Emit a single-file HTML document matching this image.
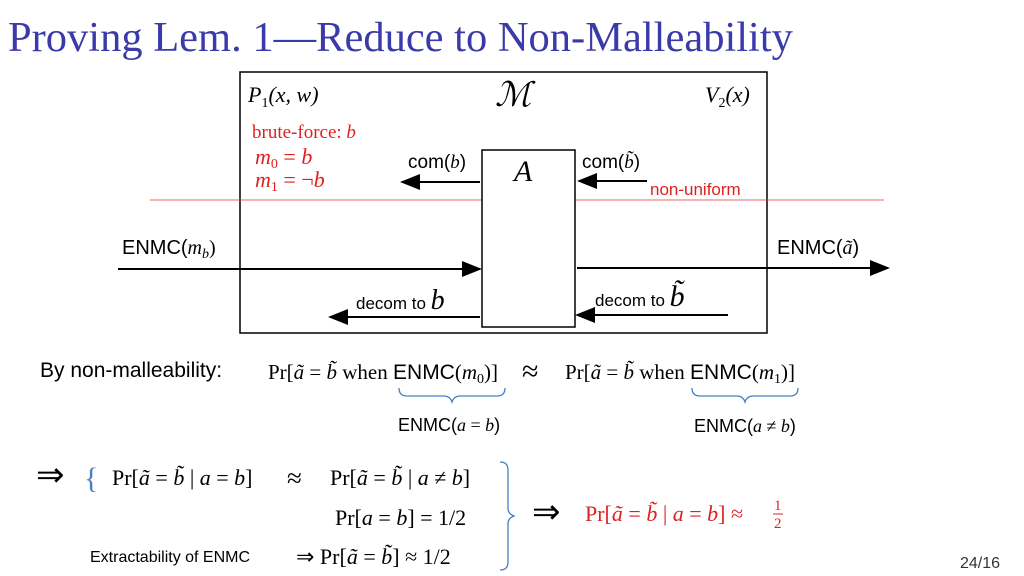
<!DOCTYPE html>
<html><head><meta charset="utf-8"><style>
html,body{margin:0;padding:0;background:#fff;}
svg{display:block;}
.s{font-family:"Liberation Serif",serif;}
.n{font-family:"Liberation Sans","DejaVu Sans",sans-serif;}
</style></head><body>
<svg width="1024" height="576" viewBox="0 0 1024 576" xmlns="http://www.w3.org/2000/svg">
<defs><marker id="ah" markerWidth="10" markerHeight="8" refX="9" refY="4" orient="auto"><path d="M0,0 L10,4 L0,8 z" fill="#000"/></marker></defs>
<text x="8" y="51" class="s" font-size="42.5" fill="#3a3aaa">Proving Lem. 1—Reduce to Non-Malleability</text>
<rect x="240" y="72" width="527" height="261" fill="none" stroke="#000" stroke-width="1.5"/>
<line x1="150" y1="200" x2="884" y2="200" stroke="#e03030" stroke-width="0.7"/>
<rect x="482" y="150" width="93" height="177" fill="#fff" stroke="#000" stroke-width="1.5"/>
<text x="248" y="102" class="s" font-size="22" font-style="italic">P<tspan font-size="14" dy="5" font-style="normal">1</tspan><tspan dy="-5">(x, w)</tspan></text>
<text x="495" y="106" class="s" font-size="34" font-style="italic">ℳ</text>
<text x="705" y="102" class="s" font-size="22" font-style="italic">V<tspan font-size="14" dy="5" font-style="normal">2</tspan><tspan dy="-5">(x)</tspan></text>
<text x="252" y="138" class="s" font-size="19" fill="#e02020">brute-force: <tspan font-style="italic">b</tspan></text>
<text x="255" y="164" class="s" font-size="22" fill="#e02020" font-style="italic">m<tspan font-size="14" dy="4" font-style="normal">0</tspan><tspan dy="-4" font-style="normal"> = </tspan>b</text>
<text x="255" y="187" class="s" font-size="22" fill="#e02020" font-style="italic">m<tspan font-size="14" dy="4" font-style="normal">1</tspan><tspan dy="-4" font-style="normal"> = ¬</tspan>b</text>
<text x="408" y="168" class="n" font-size="19">com(<tspan class="s" font-style="italic">b</tspan>)</text>
<line x1="480" y1="182" x2="402" y2="182" stroke="#000" stroke-width="2" marker-end="url(#ah)"/>
<text x="514" y="181" class="s" font-size="30" font-style="italic">A</text>
<text x="582" y="168" class="n" font-size="19">com(<tspan class="s" font-style="italic">b̃</tspan>)</text>
<line x1="647" y1="181" x2="579" y2="181" stroke="#000" stroke-width="2" marker-end="url(#ah)"/>
<text x="650" y="195" class="n" font-size="17" fill="#e02020">non-uniform</text>
<text x="122" y="254" class="n" font-size="20">ENMC(<tspan class="s" font-style="italic">m<tspan font-size="14" dy="4">b</tspan><tspan dy="-4" font-style="normal">)</tspan></tspan></text>
<line x1="118" y1="269" x2="480" y2="269" stroke="#000" stroke-width="2" marker-end="url(#ah)"/>
<text x="777" y="254" class="n" font-size="20">ENMC(<tspan class="s" font-style="italic">ã</tspan>)</text>
<line x1="577" y1="268" x2="888" y2="268" stroke="#000" stroke-width="2" marker-end="url(#ah)"/>
<text x="356" y="309" class="n" font-size="17">decom to <tspan class="s" font-size="28" font-style="italic">b</tspan></text>
<line x1="480" y1="317" x2="330" y2="317" stroke="#000" stroke-width="2" marker-end="url(#ah)"/>
<text x="595" y="306" class="n" font-size="17">decom to <tspan class="s" font-size="30" font-style="italic">b̃</tspan></text>
<line x1="728" y1="315" x2="577" y2="315" stroke="#000" stroke-width="2" marker-end="url(#ah)"/>
<text x="40" y="377" class="n" font-size="21">By non-malleability:</text>
<text x="268" y="379" class="s" font-size="21">Pr[<tspan font-style="italic">ã</tspan> = <tspan font-style="italic">b̃</tspan> when <tspan class="n">ENMC</tspan>(<tspan font-style="italic">m</tspan><tspan font-size="14" dy="4">0</tspan><tspan dy="-4">)]</tspan></text>
<text x="522" y="381" class="s" font-size="30">≈</text>
<text x="565" y="379" class="s" font-size="21">Pr[<tspan font-style="italic">ã</tspan> = <tspan font-style="italic">b̃</tspan> when <tspan class="n">ENMC</tspan>(<tspan font-style="italic">m</tspan><tspan font-size="14" dy="4">1</tspan><tspan dy="-4">)]</tspan></text>
<path d="M399,388 q0,8 8,8 h37 q6,0 8,6 q2,-6 8,-6 h37 q8,0 8,-8" fill="none" stroke="#4a7fc0" stroke-width="1.3"/>
<path d="M692,388 q0,8 8,8 h37 q6,0 8,6 q2,-6 8,-6 h37 q8,0 8,-8" fill="none" stroke="#4a7fc0" stroke-width="1.3"/>
<text x="398" y="431" class="n" font-size="18">ENMC(<tspan class="s" font-style="italic">a</tspan><tspan class="s"> = </tspan><tspan class="s" font-style="italic">b</tspan>)</text>
<text x="694" y="432" class="n" font-size="18">ENMC(<tspan class="s" font-style="italic">a</tspan><tspan class="s"> ≠ </tspan><tspan class="s" font-style="italic">b</tspan>)</text>
<text x="36" y="486" class="s" font-size="34">⇒</text>
<text x="84" y="488" class="s" font-size="30" fill="#4a7fc0">{</text>
<text x="112" y="485" class="s" font-size="22">Pr[<tspan font-style="italic">ã</tspan> = <tspan font-style="italic">b̃</tspan> | <tspan font-style="italic">a</tspan> = <tspan font-style="italic">b</tspan>]</text>
<text x="287" y="487" class="s" font-size="27">≈</text>
<text x="330" y="485" class="s" font-size="22">Pr[<tspan font-style="italic">ã</tspan> = <tspan font-style="italic">b̃</tspan> | <tspan font-style="italic">a</tspan> ≠ <tspan font-style="italic">b</tspan>]</text>
<text x="335" y="525" class="s" font-size="22">Pr[<tspan font-style="italic">a</tspan> = <tspan font-style="italic">b</tspan>] = 1/2</text>
<text x="90" y="562" class="n" font-size="16">Extractability of ENMC</text>
<text x="296" y="564" class="s" font-size="22">⇒ Pr[<tspan font-style="italic">ã</tspan> = <tspan font-style="italic">b̃</tspan>] ≈ 1/2</text>
<path d="M500,462 q8,0 8,8 v38 q0,6 6,8 q-6,2 -6,8 v38 q0,8 -8,8" fill="none" stroke="#4a7fc0" stroke-width="1.3"/>
<text x="532" y="523" class="s" font-size="34">⇒</text>
<text x="585" y="521" class="s" font-size="22" fill="#e02020">Pr[<tspan font-style="italic">ã</tspan> = <tspan font-style="italic">b̃</tspan> | <tspan font-style="italic">a</tspan> = <tspan font-style="italic">b</tspan>] ≈</text>
<text x="774" y="510" class="s" font-size="15" fill="#e02020">1</text>
<line x1="773" y1="514" x2="783" y2="514" stroke="#e02020" stroke-width="1"/>
<text x="774" y="528" class="s" font-size="15" fill="#e02020">2</text>
<text x="960" y="568" class="n" font-size="16" fill="#333">24/16</text>
</svg>
</body></html>
